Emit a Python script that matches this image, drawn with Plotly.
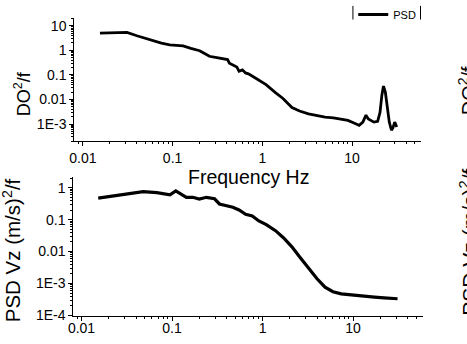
import plotly.graph_objects as go

W, H = 467, 344

# ---- data ----
freq_do = [0.0155, 0.02, 0.025, 0.031, 0.04, 0.05, 0.061, 0.075, 0.093, 0.11, 0.131,
           0.16, 0.2, 0.23, 0.257, 0.3, 0.377, 0.41, 0.43, 0.47, 0.52, 0.55, 0.6, 0.65,
           0.7, 0.77, 0.92, 1.1, 1.4, 1.7, 2.14, 2.6, 3.27, 4.0, 5.0, 6.2, 7.6, 9.0,
           10.5, 12.0, 13.2, 14.3, 15.2, 16.3, 17.5, 19.3, 20.5, 21.5, 22.4, 23.5,
           24.8, 26.0, 27.5, 28.5, 29.9, 31.5]
psd_do = [5.0, 5.0, 5.0, 5.3, 3.9, 3.0, 2.4, 1.95, 1.66, 1.6, 1.51,
          1.2, 0.96, 0.72, 0.57, 0.52, 0.45, 0.42, 0.3, 0.26, 0.21, 0.14, 0.16, 0.12,
          0.11, 0.09, 0.062, 0.04, 0.019, 0.011, 0.0047, 0.0034, 0.0026, 0.0022,
          0.0019, 0.0018, 0.0016, 0.0014, 0.0011, 0.00089, 0.0012, 0.0023, 0.0016,
          0.0014, 0.0012, 0.0013, 0.003, 0.015, 0.035, 0.02, 0.0047, 0.0012, 0.00056,
          0.0007, 0.0012, 0.00076]

freq_vz = [0.0153, 0.02, 0.027, 0.035, 0.048, 0.068, 0.085, 0.095, 0.11, 0.125, 0.144,
           0.17, 0.2, 0.24, 0.295, 0.334, 0.4, 0.47, 0.55, 0.65, 0.77, 0.91, 1.1, 1.39,
           1.7, 2.11, 2.6, 3.2, 4.0, 4.9, 6.0, 7.4, 9.0, 11.3, 14.0, 17.2, 22.0, 27.0, 31.0]
psd_vz = [0.47, 0.53, 0.6, 0.67, 0.75, 0.7, 0.63, 0.6, 0.79, 0.62, 0.5,
          0.5, 0.44, 0.5, 0.45, 0.31, 0.27, 0.245, 0.2, 0.147, 0.13, 0.091, 0.07, 0.045,
          0.027, 0.014, 0.0065, 0.0031, 0.0014, 0.00076, 0.00055, 0.00047, 0.00044,
          0.00042, 0.0004, 0.00037, 0.00035, 0.00034, 0.00033]

x_tickvals = [0.01, 0.1, 1, 10]
x_ticktext = ["0.01", "0.1", "1", "10"]
y1_tickvals = [10, 1, 0.1, 0.01, 0.001]
y1_ticktext = ["10", "1", "0.1", "0.01", "1E-3"]
y2_tickvals = [1, 0.1, 0.01, 0.001, 0.0001]
y2_ticktext = ["1", "0.1", "0.01", "1E-3", "1E-4"]

FONT = "Liberation Sans, Arial, sans-serif"


def px_x(p):
    return p / W


def px_y(p):
    return 1 - p / H


def minor_vals(lo, hi):
    vals = []
    for e in range(lo, hi):
        for m in range(2, 10):
            vals.append(m * 10 ** e)
    return vals


fig = go.Figure()
fig.add_trace(go.Scatter(x=freq_do, y=psd_do, mode="lines", name="PSD",
                         line=dict(color="black", width=2.8),
                         xaxis="x", yaxis="y", showlegend=True))
fig.add_trace(go.Scatter(x=freq_vz, y=psd_vz, mode="lines", name="PSD",
                         line=dict(color="black", width=3.2),
                         xaxis="x2", yaxis="y2", showlegend=False))

axis_common = dict(type="log", showgrid=False, zeroline=False, showline=True,
                   linecolor="black", linewidth=1, ticks="outside", ticklen=4,
                   tickwidth=1, tickcolor="black", mirror=False,
                   tickfont=dict(family=FONT, size=14, color="black"),
                   tickmode="array")

xa1 = dict(axis_common, domain=[px_x(70), px_x(421)], range=[-2.096, 1.774],
           tickvals=x_tickvals, ticktext=x_ticktext, anchor="y",
           minor=dict(tickmode="array", tickvals=minor_vals(-3, 2), ticks="outside",
                      ticklen=2, tickcolor="black", showgrid=False))
ya1 = dict(axis_common, domain=[px_y(143), px_y(16)], range=[-3.70, 1.33],
           tickvals=y1_tickvals, ticktext=y1_ticktext, anchor="x",
           minor=dict(tickmode="array", tickvals=minor_vals(-4, 2), ticks="outside",
                      ticklen=2, tickcolor="black", showgrid=False))
xa2 = dict(axis_common, domain=[px_x(69), px_x(422.3)], range=[-2.091, 1.770],
           tickvals=x_tickvals, ticktext=x_ticktext, anchor="y2",
           ticklabelstandoff=-5,
           minor=dict(tickmode="array", tickvals=minor_vals(-3, 2), ticks="outside",
                      ticklen=2, tickcolor="black", showgrid=False))
ya2 = dict(axis_common, domain=[px_y(322.7), px_y(180)], range=[-4.03, 0.327],
           tickvals=y2_tickvals, ticktext=y2_ticktext, anchor="x2",
           minor=dict(tickmode="array", tickvals=minor_vals(-5, 1), ticks="outside",
                      ticklen=2, tickcolor="black", showgrid=False))

annotations = [
    dict(text="DO<sup>2</sup>/f", x=px_x(18), y=px_y(94), xref="paper", yref="paper",
         textangle=-90, showarrow=False, xanchor="center", yanchor="middle",
         font=dict(family=FONT, size=18, color="black")),
    dict(text="Frequency Hz", x=px_x(246), y=px_y(180), xref="paper", yref="paper",
         showarrow=False, xanchor="center", yanchor="middle",
         font=dict(family=FONT, size=19.5, color="black")),
    dict(text="PSD Vz (m/s)<sup>2</sup>/f", x=px_x(7), y=px_y(255), xref="paper",
         yref="paper", textangle=-90, showarrow=False, xanchor="center",
         yanchor="middle", font=dict(family=FONT, size=20.5, color="black")),
    # neighbouring panel labels cut off at the right edge (as in the source image)
    dict(text="DO<sup>2</sup>/f", x=px_x(453), y=px_y(91), xref="paper", yref="paper",
         textangle=-90, showarrow=False, xanchor="left", yanchor="middle",
         font=dict(family=FONT, size=20, color="black")),
    dict(text="PSD Vz (m/s)<sup>2</sup>/f", x=px_x(453), y=px_y(247), xref="paper",
         yref="paper", textangle=-90, showarrow=False, xanchor="left",
         yanchor="middle", font=dict(family=FONT, size=21, color="black")),
]

shapes = [
    dict(type="line", xref="paper", yref="paper", x0=px_x(351.7), x1=px_x(351.7),
         y0=px_y(4), y1=px_y(18), line=dict(color="black", width=1)),
    dict(type="line", xref="paper", yref="paper", x0=px_x(420), x1=px_x(420),
         y0=px_y(4), y1=px_y(18), line=dict(color="black", width=1)),
]

fig.update_layout(
    width=W, height=H, autosize=False,
    margin=dict(l=0, r=0, t=0, b=0),
    paper_bgcolor="white", plot_bgcolor="white",
    font=dict(family=FONT, color="black"),
    xaxis=xa1, yaxis=ya1, xaxis2=xa2, yaxis2=ya2,
    annotations=annotations, shapes=shapes,
    showlegend=True,
    legend=dict(x=px_x(352), y=px_y(-2.5), xanchor="left", yanchor="top",
                bgcolor="rgba(0,0,0,0)", borderwidth=0,
                font=dict(family=FONT, size=11, color="black"),
                itemwidth=30, tracegroupgap=0),
)

fig.write_html("out.html")
